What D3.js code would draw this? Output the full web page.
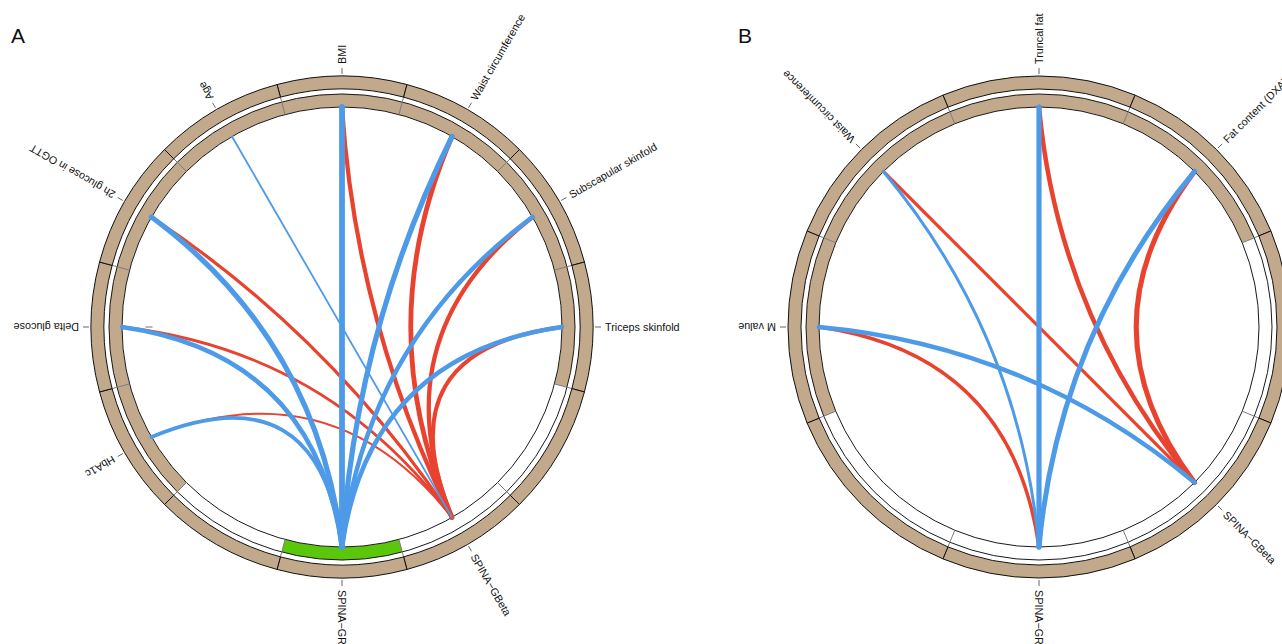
<!DOCTYPE html>
<html>
<head>
<meta charset="utf-8">
<script src="https://cdn.jsdelivr.net/npm/d3@7"></script>
<style>
  html, body { margin: 0; padding: 0; background: #fff; }
  svg { display: block; }
  text { font-family: "Liberation Sans", Arial, Helvetica, sans-serif; fill: #111; }
</style>
</head>
<body>
<svg id="chart" width="1282" height="644"></svg>
<script>
// ---- Panel A: sectors clockwise from 12 o'clock ("" = unlabelled sector)
const sectorsA = ["BMI", "Waist circumference", "Subscapular skinfold", "Triceps skinfold", "",
  "SPINA\u2212GBeta", "SPINA\u2212GR", "", "HbA1c", "Delta glucose", "2h glucose in OGTT", "Age"];
const innerGroupA = ["anthro", "anthro", "anthro", "anthro", "none",
  "none", "spina", "none", "anthro", "anthro", "anthro", "anthro"];
const outerGroupA = ["anthro", "anthro", "anthro", "anthro", "anthro",
  "anthro", "anthro", "anthro", "anthro", "anthro", "anthro", "anthro"];
// correlations: [from, to, r]
const linksA = [
  ["BMI", "SPINA\u2212GBeta", 0.42],
  ["Waist circumference", "SPINA\u2212GBeta", 0.48],
  ["Subscapular skinfold", "SPINA\u2212GBeta", 0.42],
  ["Triceps skinfold", "SPINA\u2212GBeta", 0.40],
  ["2h glucose in OGTT", "SPINA\u2212GBeta", 0.32],
  ["Delta glucose", "SPINA\u2212GBeta", 0.28],
  ["HbA1c", "SPINA\u2212GBeta", 0.20],
  ["Age", "SPINA\u2212GBeta", -0.18],
  ["BMI", "SPINA\u2212GR", -0.58],
  ["Waist circumference", "SPINA\u2212GR", -0.52],
  ["Subscapular skinfold", "SPINA\u2212GR", -0.45],
  ["Triceps skinfold", "SPINA\u2212GR", -0.45],
  ["2h glucose in OGTT", "SPINA\u2212GR", -0.52],
  ["Delta glucose", "SPINA\u2212GR", -0.45],
  ["HbA1c", "SPINA\u2212GR", -0.38]
];

// ---- Panel B
const sectorsB = ["Truncal fat", "Fat content (DXA)", "", "SPINA\u2212GBeta",
  "SPINA\u2212GR", "", "M value", "Waist circumference"];
const innerGroupB = ["anthro", "anthro", "none", "none", "none", "none", "anthro", "anthro"];
const outerGroupB = ["anthro", "anthro", "anthro", "anthro", "anthro", "anthro", "anthro", "anthro"];
const linksB = [
  ["Truncal fat", "SPINA\u2212GBeta", 0.45],
  ["Fat content (DXA)", "SPINA\u2212GBeta", 0.50],
  ["Waist circumference", "SPINA\u2212GBeta", 0.32],
  ["M value", "SPINA\u2212GR", 0.35],
  ["Truncal fat", "SPINA\u2212GR", -0.52],
  ["Fat content (DXA)", "SPINA\u2212GR", -0.50],
  ["Waist circumference", "SPINA\u2212GR", -0.30],
  ["M value", "SPINA\u2212GBeta", -0.45]
];

const groupFill = { anthro: "#C2A98B", spina: "#5BC70B", none: "#FFFFFF" };
const posColor = "#E8432F", negColor = "#4D9BE8";

const svg = d3.select("#chart");

const R = {
  node: 220,      // inner edge of inner ring, where links end
  innerOut: 233,
  outerIn: 238,
  outerOut: 251,
  tick0: 253, tick1: 259,
  label: 263
};
const pull = 0.75; // how far the control point moves from the chord midpoint toward the centre

const widthScale = d3.scaleLinear().domain([0, 1]).range([0, 10]);

function drawPanel(cx, cy, letter, letterX, sectors, innerGroup, outerGroup, links, extraDash) {
  const g = svg.append("g").attr("transform", `translate(${cx},${cy})`);
  const n = sectors.length;
  const step = 2 * Math.PI / n;
  const keys = sectors.map((s, i) => i);
  const angle = d3.scaleBand().domain(keys).range([-step / 2, 2 * Math.PI - step / 2]);
  const bw = angle.bandwidth();
  const mid = i => angle(i) + bw / 2;
  const idx = name => sectors.indexOf(name);
  const pt = (a, r) => [r * Math.sin(a), -r * Math.cos(a)];

  const arc = d3.arc();

  // inner ring fills
  g.selectAll("path.inner").data(keys).join("path")
    .attr("class", "inner")
    .attr("d", i => arc({ innerRadius: R.node, outerRadius: R.innerOut, startAngle: angle(i), endAngle: angle(i) + bw }))
    .attr("fill", i => groupFill[innerGroup[i]]);

  // inner ring outlines
  [R.node, R.innerOut].forEach(r => {
    g.append("circle").attr("r", r).attr("fill", "none").attr("stroke", "#1a1a1a").attr("stroke-width", 1);
  });

  // grey sector separators through the inner ring
  g.selectAll("line.sep").data(keys).join("line")
    .attr("class", "sep")
    .attr("x1", i => pt(angle(i), R.node)[0]).attr("y1", i => pt(angle(i), R.node)[1])
    .attr("x2", i => pt(angle(i), R.outerIn)[0]).attr("y2", i => pt(angle(i), R.outerIn)[1])
    .attr("stroke", "#7a7a7a").attr("stroke-width", 1);

  // outer ring sectors
  g.selectAll("path.outer").data(keys).join("path")
    .attr("class", "outer")
    .attr("d", i => arc({ innerRadius: R.outerIn, outerRadius: R.outerOut, startAngle: angle(i), endAngle: angle(i) + bw }))
    .attr("fill", i => groupFill[outerGroup[i]])
    .attr("stroke", "#111").attr("stroke-width", 1);

  // links: quadratic curves bent toward the centre
  const sorted = links.slice().sort((a, b) => (a[2] < 0) - (b[2] < 0));
  g.selectAll("path.link").data(sorted).join("path")
    .attr("class", "link")
    .attr("d", d => {
      const p0 = pt(mid(idx(d[0])), R.node);
      const p2 = pt(mid(idx(d[1])), R.node);
      const k = (1 - pull) / 2;
      const c = [(p0[0] + p2[0]) * k, (p0[1] + p2[1]) * k];
      const p = d3.path();
      p.moveTo(p0[0], p0[1]);
      p.quadraticCurveTo(c[0], c[1], p2[0], p2[1]);
      return p.toString();
    })
    .attr("fill", "none")
    .attr("stroke", d => d[2] > 0 ? posColor : negColor)
    .attr("stroke-width", d => widthScale(Math.abs(d[2])))
    .attr("stroke-linecap", "round");

  // labels with ticks
  const labelled = keys.filter(i => sectors[i] !== "");
  g.selectAll("line.tick").data(labelled).join("line")
    .attr("class", "tick")
    .attr("x1", i => pt(mid(i), R.tick0)[0]).attr("y1", i => pt(mid(i), R.tick0)[1])
    .attr("x2", i => pt(mid(i), R.tick1)[0]).attr("y2", i => pt(mid(i), R.tick1)[1])
    .attr("stroke", "#555").attr("stroke-width", 0.9);
  g.selectAll("text.lab").data(labelled).join("text")
    .attr("class", "lab")
    .attr("transform", i => `rotate(${mid(i) * 180 / Math.PI - 90}) translate(${R.label},0)`)
    .attr("dy", "0.35em")
    .attr("font-size", 10.8)
    .text(i => sectors[i]);

  if (extraDash) {
    const a = mid(idx(extraDash));
    const p = pt(a, R.node - 27);
    g.append("line")
      .attr("x1", p[0] - 3.5).attr("x2", p[0] + 3.5).attr("y1", p[1]).attr("y2", p[1])
      .attr("stroke", "#888").attr("stroke-width", 1.2);
  }

  svg.append("text").attr("x", letterX).attr("y", 43)
    .attr("font-size", 21).text(letter);
}

drawPanel(342, 327, "A", 11, sectorsA, innerGroupA, outerGroupA, linksA, "Delta glucose");
drawPanel(1039, 327, "B", 738, sectorsB, innerGroupB, outerGroupB, linksB, null);
</script>
</body>
</html>
